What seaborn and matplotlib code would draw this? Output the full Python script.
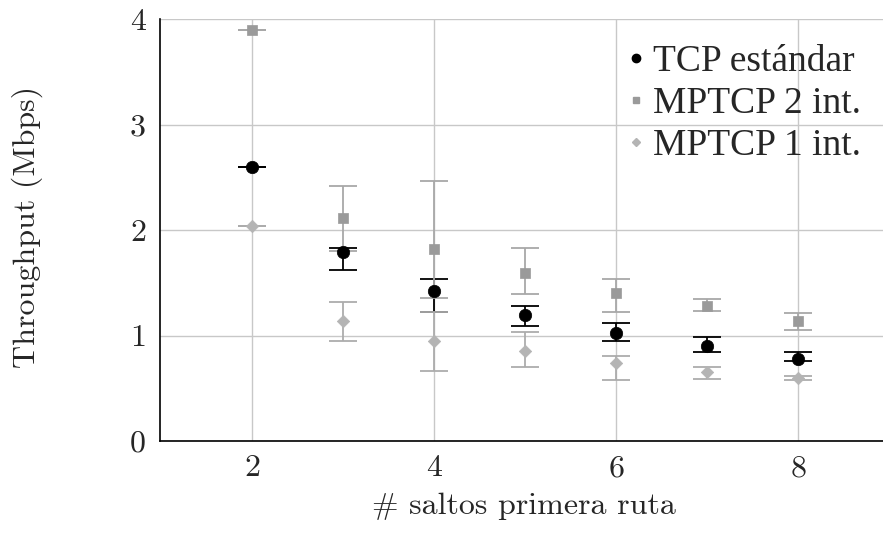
import numpy as np
import pandas as pd
import matplotlib
matplotlib.use("Agg")
import matplotlib.pyplot as plt
import seaborn as sns
from matplotlib.lines import Line2D

# ---- data ----
saltos = [2, 3, 4, 5, 6, 7, 8]
tcp = [2.60, 1.79, 1.42, 1.19, 1.02, 0.90, 0.78]
tcp_lo = [2.60, 1.62, 1.22, 1.09, 0.95, 0.84, 0.76]
tcp_hi = [2.60, 1.83, 1.54, 1.28, 1.12, 0.99, 0.84]
mp2 = [3.90, 2.11, 1.82, 1.59, 1.40, 1.28, 1.14]
mp2_lo = [3.90, 1.80, 1.36, 1.39, 1.22, 1.23, 1.05]
mp2_hi = [3.90, 2.42, 2.46, 1.83, 1.54, 1.35, 1.21]
mp1 = [2.04, 1.14, 0.95, 0.85, 0.74, 0.65, 0.60]
mp1_lo = [2.04, 0.95, 0.66, 0.70, 0.58, 0.59, 0.58]
mp1_hi = [2.04, 1.32, 1.22, 1.03, 0.81, 0.70, 0.62]
labels = ["TCP estándar", "MPTCP 2 int.", "MPTCP 1 int."]
x_ticks = [2, 4, 6, 8]
y_ticks = [0, 1, 2, 3, 4]

sns.set_style("white")

fig = plt.figure(figsize=(8.83, 5.45), dpi=100)
ax = fig.add_axes([160 / 883, (545 - 441) / 545, 723 / 883, 422 / 545])

series = [
    (labels[0], tcp, tcp_lo, tcp_hi, "black", "black", "o", 80),
    (labels[1], mp2, mp2_lo, mp2_hi, "#9a9a9a", "#a8a8a8", "s", 60),
    (labels[2], mp1, mp1_lo, mp1_hi, "#b4b4b4", "#acacac", "D", 40),
]

for name, y, lo, hi, mcol, ecol, mk, s in series:
    y = np.array(y)
    yerr = [y - np.array(lo), np.array(hi) - y]
    ax.errorbar(saltos, y, yerr=yerr, fmt="none", ecolor=ecol,
                elinewidth=1.3, capsize=10, capthick=1.3, zorder=2)

for name, y, lo, hi, mcol, ecol, mk, s in series:
    df = pd.DataFrame({"saltos": saltos, "thr": y})
    sns.scatterplot(data=df, x="saltos", y="thr", ax=ax, color=mcol,
                    marker=mk, s=s, edgecolor=mcol, linewidth=0.5,
                    legend=False, zorder=3)

ax.set_xlim(0.99, 8.93)
ax.set_ylim(0, 4)
ax.set_xticks(x_ticks)
ax.set_yticks(y_ticks)
ax.grid(True, color="#c8c8c8", linewidth=1.0)
ax.set_axisbelow(True)
for side in ["top", "right"]:
    ax.spines[side].set_visible(False)
for side in ["left", "bottom"]:
    ax.spines[side].set_color("black")
    ax.spines[side].set_linewidth(1.2)
ax.tick_params(direction="in", length=11, width=1.0, color="#888888",
               labelsize=23, pad=10)
for lab in ax.get_xticklabels() + ax.get_yticklabels():
    lab.set_fontfamily("cmr10")

ax.set_xlabel("# saltos primera ruta", fontfamily="cmr10", fontsize=23)
ax.set_ylabel("Throughput (Mbps)", fontfamily="cmr10", fontsize=23)
ax.xaxis.label.set_va("center")
ax.xaxis.set_label_coords(0.503, -0.155)
ax.yaxis.label.set_va("center")
ax.yaxis.label.set_ha("center")
ax.yaxis.set_label_coords(-0.184, 0.508)

handles = [
    Line2D([], [], linestyle="none", marker="o", color="black", markersize=6),
    Line2D([], [], linestyle="none", marker="s", color="#9a9a9a", markersize=5),
    Line2D([], [], linestyle="none", marker="D", color="#b4b4b4", markersize=4),
]
leg = ax.legend(handles, labels, loc="upper right", bbox_to_anchor=(0.99, 0.975),
                frameon=False, handlelength=0.4, handletextpad=0.25,
                labelspacing=0.2, borderaxespad=0.0,
                prop={"family": "Liberation Serif", "size": 27})

fig.savefig("out.png", dpi=100)
